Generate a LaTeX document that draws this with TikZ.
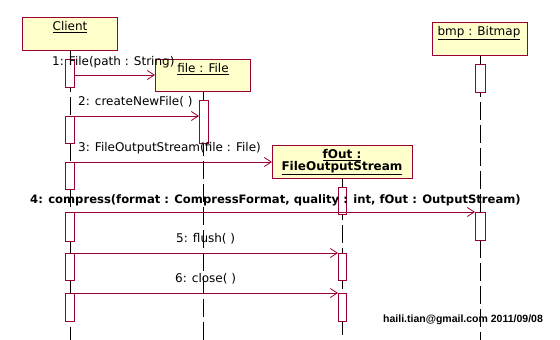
\documentclass[tikz,border=0pt]{standalone}
\usepackage{fontspec}
\setmainfont{DejaVu Sans}
\newfontfamily\footfont{Liberation Sans}
\usetikzlibrary{arrows.meta}
\definecolor{umlred}{HTML}{990033}
\definecolor{umlfill}{HTML}{FFFFCC}
\tikzset{
  obj/.style={draw=umlred, fill=umlfill, line width=0.9pt, inner sep=0pt, anchor=north west},
  act/.style={draw=umlred, fill=white, line width=0.9pt},
  life/.style={draw=black, line width=0.9pt, dash pattern=on 18pt off 5pt},
  msg/.style={draw=umlred, line width=0.8pt, -{Straight Barb[length=7pt,width=9pt]}},
  lbl/.style={inner sep=0pt, font=\fontsize{12}{14}\selectfont, anchor=west},
  objlbl/.style={inner sep=0pt, font=\fontsize{12}{14}\selectfont},
}
\newcommand{\ul}[1]{\underline{#1}}
\begin{document}
\begin{tikzpicture}[x=1pt,y=-1pt]
\useasboundingbox (0,0) rectangle (560,340);
% objects
\node[obj, minimum width=95pt, minimum height=33pt] (client) at (22,17) {};
\node[obj, minimum width=95pt, minimum height=32pt] (file) at (155,59) {};
\node[obj, minimum width=95pt, minimum height=33pt] (bmp) at (432,22) {};
\node[obj, minimum width=140pt, minimum height=33pt] (fout) at (272,145) {};
% lifelines
\draw[life] (client.south) -- (client.south |- 0,340);
\draw[life] (file.south) -- (file.south |- 0,340);
\draw[life] (fout.south) -- (fout.south |- 0,340);
\draw[life] (bmp.south) -- (bmp.south |- 0,340);
% object labels
\node[objlbl] (clientlbl) at (70,27) {\ul{Client}};
\node[objlbl] (filelbl) at (203,69) {\ul{file : File}};
\node[objlbl] (bmplbl) at (479,33) {\ul{bmp : Bitmap}};
\node[objlbl, font=\fontsize{12}{13}\selectfont\bfseries, align=center] (foutlbl) at (342,162) {\ul{fOut :}\\[-1pt]\ul{FileOutputStream}};
% activations
\path[act] (65,59) rectangle (74,87);
\path[act] (65,116) rectangle (74,143);
\path[act] (65,162) rectangle (74,189);
\path[act] (65,212) rectangle (74,241);
\path[act] (65,253) rectangle (74,280);
\path[act] (65,293) rectangle (74,321);
\path[act] (199,100) rectangle (208,143);
\path[act] (338,187) rectangle (346,214);
\path[act] (338,253) rectangle (346,280);
\path[act] (338,293) rectangle (346,321);
\path[act] (475,64) rectangle (485,92);
\path[act] (475,212) rectangle (485,240);
% coordinates
\coordinate (c1) at (74,75); \coordinate (f1) at (155,75);
\coordinate (c2) at (74,116); \coordinate (f2) at (199,116);
\coordinate (c3) at (74,162); \coordinate (o3) at (272,162);
\coordinate (c4) at (74,212); \coordinate (b4) at (475,212);
\coordinate (c5) at (74,253); \coordinate (o5) at (338,253);
\coordinate (c6) at (74,293); \coordinate (o6) at (338,293);
\draw[msg] (c1) -- (f1);
\draw[msg] (c2) -- (f2);
\draw[msg] (c3) -- (o3);
\draw[msg] (c4) -- (b4);
\draw[msg] (c5) -- (o5);
\draw[msg] (c6) -- (o6);
% labels
\node[lbl] (l1) at (52,62) {1: File(path : String)};
\node[lbl] (l2) at (78,102) {2: createNewFile( )};
\node[lbl] (l3) at (78,148) {3: FileOutputStream(file : File)};
\node[lbl, font=\fontsize{11.6}{14}\selectfont\bfseries] (l4) at (30,200) {4: compress(format : CompressFormat, quality : int, fOut : OutputStream)};
\node[lbl] (l5) at (176,239) {5: flush( )};
\node[lbl] (l6) at (175,279) {6: close( )};
\node[lbl, font=\footfont\fontsize{10.5}{12}\selectfont\bfseries] (foot) at (383,320) {haili.tian@gmail.com 2011/09/08};
\end{tikzpicture}
\end{document}
